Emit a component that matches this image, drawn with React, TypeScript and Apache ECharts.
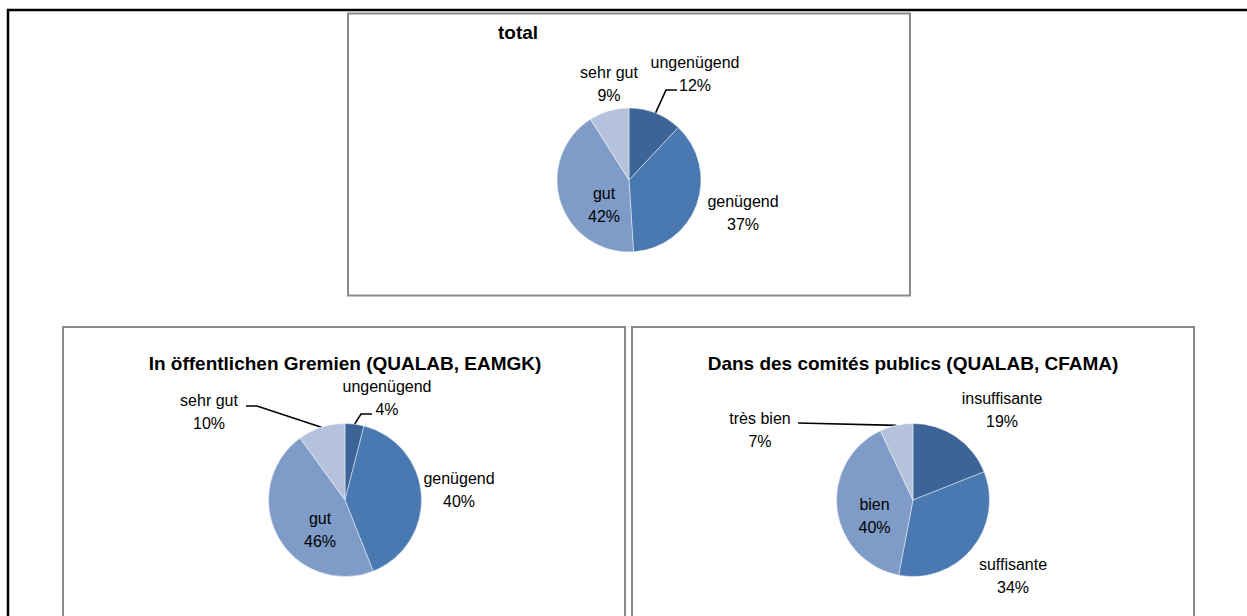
import React, { useEffect, useRef } from "react";
import * as echarts from "echarts";

const FONT = '"Liberation Sans", Arial, sans-serif';

const totalCategories = ["ungenügend", "genügend", "gut", "sehr gut"];
const totalValues = [12, 37, 42, 9];

const gremienCategories = ["ungenügend", "genügend", "gut", "sehr gut"];
const gremienValues = [4, 40, 46, 10];

const comitesCategories = ["insuffisante", "suffisante", "bien", "très bien"];
const comitesValues = [19, 34, 40, 7];

const titles = ["total", "In öffentlichen Gremien (QUALAB, EAMGK)", "Dans des comités publics (QUALAB, CFAMA)"];

const sliceColors = ["#3c6496", "#4a78b0", "#7f9bc7", "#b4c2dc"];

// label placement (styles)
const totalLabelPos = [[695, 73.5], [743, 213], [604, 205], [609, 83.5]];
const totalLeader: (number[][] | null)[] = [[[666, 90], [677, 90]], null, null, null];
const gremienLabelPos = [[387, 398], [459, 490], [320, 530], [209, 412]];
const gremienLeader: (number[][] | null)[] = [[[361, 414], [372, 414]], null, null, [[257, 406], [246, 406]]];
const comitesLabelPos = [[1002, 410], [1013, 576], [874.5, 516], [760, 430]];
const comitesLeader: (number[][] | null)[] = [null, null, null, [[798, 423]]];

function pieSeries(
  cats: string[],
  vals: number[],
  center: number[],
  radius: number,
  pos: number[][],
  leaders: (number[][] | null)[]
) {
  return {
    type: "pie",
    center,
    radius,
    startAngle: 90,
    clockwise: true,
    avoidLabelOverlap: false,
    itemStyle: { borderColor: "rgba(255,255,255,0.55)", borderWidth: 0.8 },
    label: {
      show: true,
      formatter: "{b}\n{c}%",
      fontFamily: FONT,
      fontSize: 16,
      lineHeight: 23,
      color: "#000",
    },
    labelLine: { show: true, smooth: false, lineStyle: { color: "#000", width: 1.6 } },
    labelLayout: (p: any) => {
      const i = p.dataIndex;
      const out: any = { x: pos[i][0], y: pos[i][1], align: "center", verticalAlign: "middle" };
      const lead = leaders[i];
      if (lead && p.labelLinePoints) {
        out.labelLinePoints = [p.labelLinePoints[0], ...lead];
      }
      return out;
    },
    emphasis: { disabled: true },
    data: cats.map((name, i) => ({
      name,
      value: vals[i],
      itemStyle: { color: sliceColors[i] },
      labelLine: { show: !!leaders[i] },
    })),
  };
}

export default function App() {
  const ref = useRef<HTMLDivElement>(null);
  useEffect(() => {
    if (!ref.current) return;
    const chart = echarts.init(ref.current, null, { renderer: "svg" });
    const titleStyle = (text: string, x: number, y: number) => ({
      type: "text",
      x,
      y,
      silent: true,
      style: {
        text,
        fill: "#000",
        font: `bold 19px ${FONT}`,
        textAlign: "center",
        textVerticalAlign: "middle",
        align: "center",
        verticalAlign: "middle",
      },
    });
    chart.setOption({
      animation: false,
      backgroundColor: "#fff",
      graphic: [
        {
          type: "rect",
          shape: { x: 8, y: 10, width: 1260, height: 640 },
          style: { fill: "none", stroke: "#000", lineWidth: 2.5 },
          silent: true,
        },
        {
          type: "rect",
          shape: { x: 348, y: 13.5, width: 562, height: 282 },
          style: { fill: "none", stroke: "#8a8a8a", lineWidth: 2 },
          silent: true,
        },
        {
          type: "rect",
          shape: { x: 63, y: 327, width: 562, height: 320 },
          style: { fill: "none", stroke: "#8a8a8a", lineWidth: 2 },
          silent: true,
        },
        {
          type: "rect",
          shape: { x: 632, y: 327, width: 562, height: 320 },
          style: { fill: "none", stroke: "#8a8a8a", lineWidth: 2 },
          silent: true,
        },
        titleStyle(titles[0], 518, 32),
        titleStyle(titles[1], 345, 363),
        titleStyle(titles[2], 913, 363),
      ],
      series: [
        pieSeries(totalCategories, totalValues, [629, 180], 72, totalLabelPos, totalLeader),
        pieSeries(gremienCategories, gremienValues, [345, 500], 76.5, gremienLabelPos, gremienLeader),
        pieSeries(comitesCategories, comitesValues, [913, 500], 76.5, comitesLabelPos, comitesLeader),
      ],
    });
    return () => chart.dispose();
  }, []);
  return (
    <div
      ref={ref}
      style={{ position: "fixed", left: 0, top: 0, width: 1247, height: 616, background: "#fff" }}
    />
  );
}
